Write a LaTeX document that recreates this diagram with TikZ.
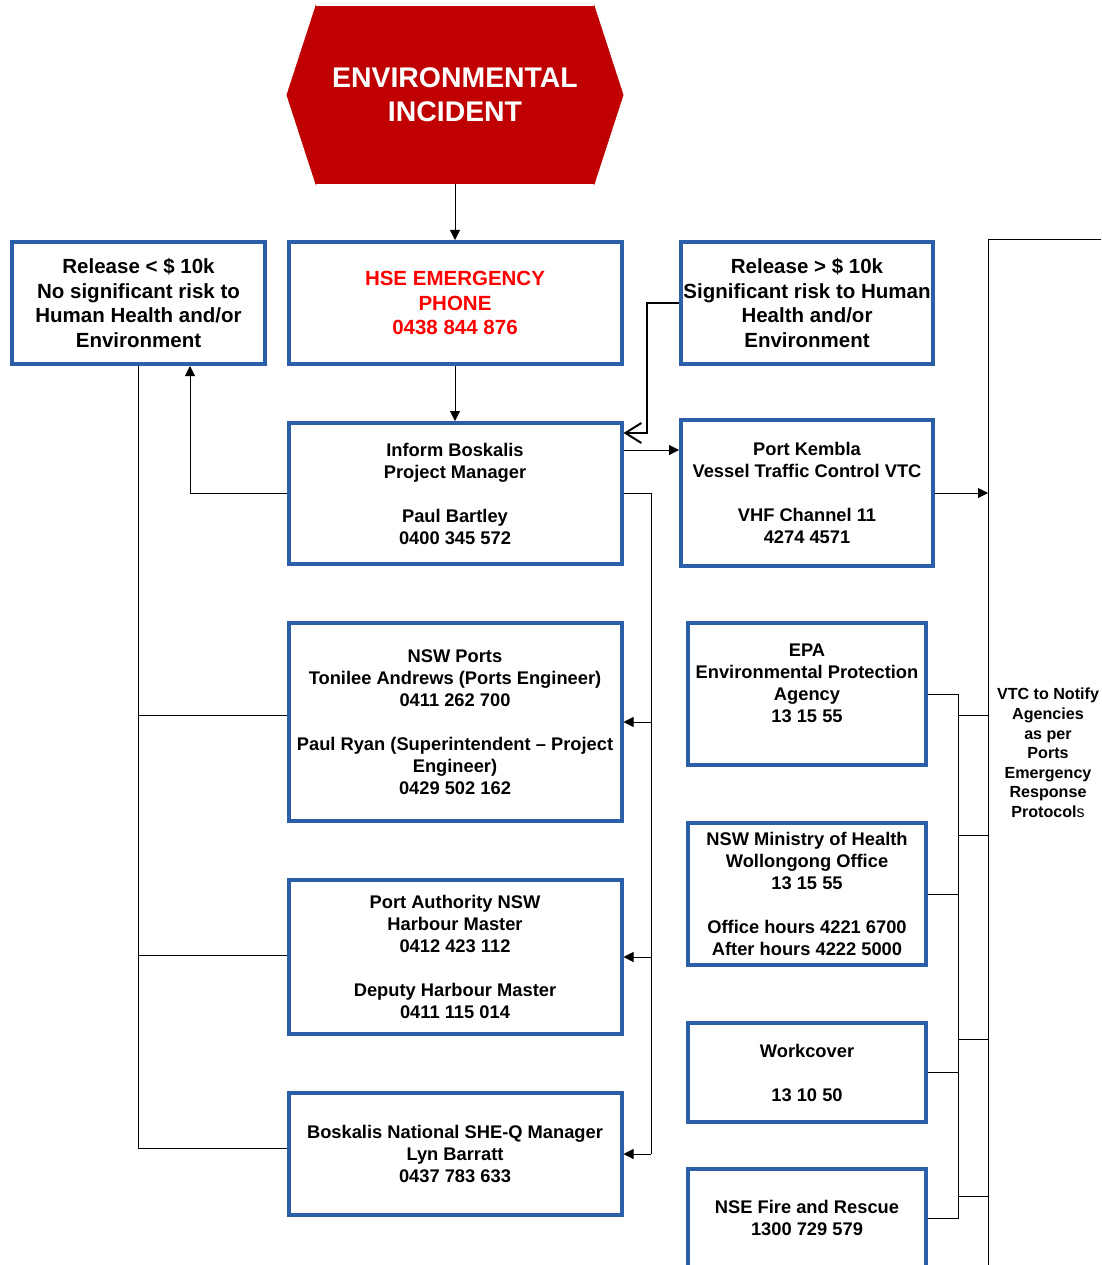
\documentclass[tikz,border=0pt]{standalone}
\usepackage{fontspec}
\setmainfont{Liberation Sans}
\usetikzlibrary{arrows.meta}
\definecolor{boxblue}{RGB}{44,95,170}
\definecolor{incred}{RGB}{192,0,0}
\definecolor{hsered}{RGB}{255,0,0}

\begin{document}
\begin{tikzpicture}[x=1pt,y=-1pt,
  box/.style={draw=boxblue,line width=4pt,align=center,inner sep=0pt,
    font=\bfseries\fontsize{18.3}{22}\selectfont},
  bigbox/.style={box,font=\bfseries\fontsize{20.5}{24.5}\selectfont},
  conn/.style={line width=1pt},
  arr/.style={conn,-{Triangle[length=10pt,width=10pt]}}]
\useasboundingbox (0,0) rectangle (1101,1265);

\node[fill=incred,minimum width=278,minimum height=178,inner sep=0pt,text=white,align=center,
  font=\bfseries\fontsize{28.4}{34}\selectfont] (incident) at (455,95) {ENVIRONMENTAL\\INCIDENT};
\fill[incred,draw=incred,line width=0.5pt] (incident.north west) -- ([xshift=-29pt]incident.west) -- (incident.south west) -- cycle;
\fill[incred,draw=incred,line width=0.5pt] (incident.north east) -- ([xshift=29pt]incident.east) -- (incident.south east) -- cycle;

\node[bigbox,minimum width=253,minimum height=122] (relLow) at (138.5,303)
  {Release < \$ 10k\\No significant risk to\\Human Health and/or\\Environment};
\node[bigbox,text=hsered,minimum width=333,minimum height=122] (hse) at (455,303)
  {HSE EMERGENCY\\PHONE\\0438 844 876};
\node[bigbox,minimum width=252,minimum height=122] (relHigh) at (807,303)
  {Release > \$ 10k\\Significant risk to Human\\Health and/or\\Environment};

\node[box,minimum width=333,minimum height=141] (inform) at (455,493.5)
  {Inform Boskalis\\Project Manager\\[22pt]Paul Bartley\\0400 345 572};
\node[box,minimum width=252,minimum height=146] (kembla) at (807,493)
  {Port Kembla\\Vessel Traffic Control VTC\\[22pt]VHF Channel 11\\4274 4571};

\node[box,minimum width=333,minimum height=198] (nswports) at (455,722)
  {NSW Ports\\Tonilee Andrews (Ports Engineer)\\0411 262 700\\[22pt]Paul Ryan (Superintendent \textendash{} Project\\Engineer)\\0429 502 162};
\node[box,minimum width=333,minimum height=154] (portauth) at (455,957)
  {Port Authority NSW\\Harbour Master\\0412 423 112\\[22pt]Deputy Harbour Master\\0411 115 014};
\node[box,minimum width=333,minimum height=122] (shemgr) at (455,1154)
  {Boskalis National SHE-Q Manager\\Lyn Barratt\\0437 783 633};

\node[box,minimum width=238,minimum height=142] (epa) at (807,694)
  {EPA\\Environmental Protection\\Agency\\13 15 55\\[0pt]\mbox{}};
\node[box,minimum width=238,minimum height=142] (ministry) at (807,894)
  {NSW Ministry of Health\\Wollongong Office\\13 15 55\\[22pt]Office hours 4221 6700\\After hours 4222 5000};
\node[box,minimum width=238,minimum height=99] (workcover) at (807,1072.5)
  {Workcover\\[22pt]13 10 50};
\node[box,minimum width=238,minimum height=98] (nsefire) at (807,1218)
  {NSE Fire and Rescue\\1300 729 579};

\node[align=center,font=\bfseries\fontsize{16.1}{19.6}\selectfont] (vtcnote) at (1048,753)
  {VTC to Notify\\Agencies\\as per\\Ports\\Emergency\\Response\\Protocol{\mdseries s}};

\draw[arr] (incident) -- (hse);
\draw[arr] (hse) -- (inform);
\draw[line width=2pt,-{Straight Barb[length=16pt,width=20pt]}] (relHigh.west) -- ++(-32,0) |- (inform.east |- 0,433);
\draw[arr] (inform.east |- 0,450) -- (kembla.west |- 0,450);
\draw[arr] (inform.west) -| ([xshift=51.5pt]relLow.south);

\draw[conn] (relLow.south) |- (shemgr.west |- 0,1148);
\draw[conn] (relLow.south |- 0,715) -- (nswports.west |- 0,715);
\draw[conn] (relLow.south |- 0,955) -- (portauth.west |- 0,955);

\coordinate (railR) at (651,493.5);
\draw[conn] (inform.east) -- (railR) -- (railR |- shemgr.east);
\foreach \n in {nswports,portauth,shemgr}
  \draw[arr] (railR |- \n.east) -- (\n.east);

\coordinate (busTop) at (988,240);
\coordinate (busEnd) at (988,1270);
\coordinate (busEdge) at (1101,240);
\coordinate (subRail) at (958,694);
\draw[conn] (busEdge) -- (busTop) -- (busEnd);
\draw[arr] (kembla.east) -- (kembla.east -| busTop);
\draw[conn] (epa.east) -- (epa.east -| subRail) -- (nsefire.east -| subRail) -- (nsefire.east);
\draw[conn] (ministry.east) -- (ministry.east -| subRail);
\draw[conn] (workcover.east) -- (workcover.east -| subRail);
\foreach \y in {715,835,1039,1196}
  \draw[conn] (subRail |- 0,\y) -- (busTop |- 0,\y);
\end{tikzpicture}
\end{document}
